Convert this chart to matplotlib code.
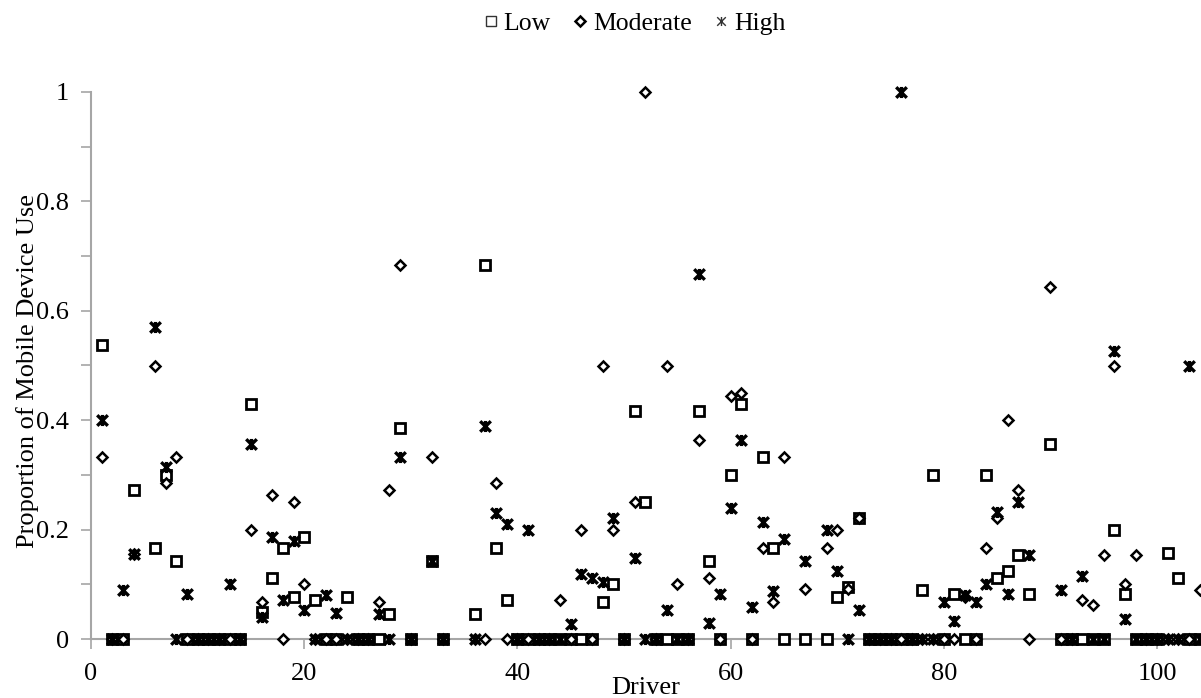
import numpy as np
import matplotlib
matplotlib.use("Agg")
import matplotlib.pyplot as plt
from matplotlib.path import Path
from matplotlib.lines import Line2D

nan = np.nan
drivers = list(range(1, 105))
low = [0.538, 0, 0, 0.273, nan, 0.167, 0.300, 0.143, 0, 0,
       0, 0, 0, 0, 0.429, 0.050, 0.111, 0.167, 0.077, 0.186,
       0.071, 0, 0, 0.077, 0, 0, 0, 0.045, 0.385, 0,
       nan, 0.143, 0, nan, nan, 0.045, 0.684, 0.167, 0.071, 0,
       0, 0, 0, 0, 0, 0, 0, 0.067, 0.100, 0,
       0.417, 0.250, 0, 0, 0, 0, 0.417, 0.143, 0, 0.300,
       0.429, 0, 0.333, 0.167, 0, nan, 0, nan, 0, 0.077,
       0.095, 0.222, 0, 0, 0, 0, 0, 0.090, 0.300, 0,
       0.083, 0, 0, 0.300, 0.111, 0.125, 0.154, 0.083, nan, 0.357,
       0, 0, 0, 0, 0, 0.200, 0.083, 0, 0, 0,
       0.158, 0.111, 0, 0]
moderate = [0.333, 0, 0, 0.155, nan, 0.500, 0.286, 0.333, 0, 0,
            0, 0, 0, 0, 0.200, 0.067, 0.263, 0, 0.250, 0.100,
            0, 0, 0, 0, 0, 0, 0.067, 0.273, 0.684, 0,
            nan, 0.333, 0, nan, nan, 0, 0, 0.286, 0, 0,
            0, 0, 0, 0.071, 0, 0.200, 0, 0.500, 0.200, 0,
            0.250, 1.0, 0, 0.500, 0.100, 0, 0.364, 0.111, 0, 0.444,
            0.450, 0, 0.167, 0.067, 0.333, nan, 0.091, nan, 0.167, 0.200,
            0.091, 0.222, 0, 0, 0, 0, 0, 0, 0, 0,
            0, 0.077, 0, 0.167, 0.222, 0.400, 0.273, 0, nan, 0.643,
            0, 0, 0.071, 0.063, 0.154, 0.500, 0.100, 0.154, 0, 0,
            0, 0, 0, 0.090]
high = [0.400, 0, 0.090, 0.155, nan, 0.571, 0.314, 0, 0.083, 0,
        0, 0, 0.100, 0, 0.357, 0.040, 0.186, 0.072, 0.180, 0.053,
        0, 0.080, 0.048, 0, 0, 0, 0.045, 0, 0.333, 0,
        nan, 0.143, 0, nan, nan, 0, 0.390, 0.231, 0.210, 0,
        0.200, 0, 0, 0, 0.028, 0.118, 0.111, 0.105, 0.222, 0,
        0.148, 0, 0, 0.053, 0, 0, 0.667, 0.029, 0.083, 0.240,
        0.364, 0.059, 0.214, 0.087, 0.182, nan, 0.143, nan, 0.200, 0.125,
        0, 0.053, 0, 0, 0, 1.0, 0, 0, 0, 0.067,
        0.033, 0.080, 0.067, 0.100, 0.233, 0.083, 0.250, 0.154, nan, nan,
        0.090, 0, 0.116, 0, 0, 0.526, 0.036, 0, 0, 0,
        0, 0, 0.500, 0]

x_ticks = [0, 20, 40, 60, 80, 100]
y_ticks = [0, 0.2, 0.4, 0.6, 0.8, 1.0]
y_tick_labels = ["0", "0.2", "0.4", "0.6", "0.8", "1"]
series_names = ["Low", "Moderate", "High"]

plt.rcParams['font.family'] = ['Liberation Serif', 'DejaVu Serif']

W, H = 1201, 698
fig = plt.figure(figsize=(W / 100, H / 100), dpi=100)
x0_px, px_per = 91, 10.66
y0_px, y1_px = 639, 92
xmax = 104.6
ax_w = xmax * px_per / W
ax = fig.add_axes([x0_px / W, (H - y0_px) / H, ax_w, (y0_px - y1_px) / H])

star_path = Path([(-1, -1), (1, 1), (-1, 1), (1, -1), (0, -1.05), (0, 1.05)],
                 [Path.MOVETO, Path.LINETO, Path.MOVETO, Path.LINETO, Path.MOVETO, Path.LINETO])

ax.plot(drivers, low, linestyle='none', marker='s', markersize=6.9, markerfacecolor='white',
        markeredgecolor='black', markeredgewidth=2.0, clip_on=False, zorder=3)
ax.plot(drivers, moderate, linestyle='none', marker='D', markersize=5.0, markerfacecolor='white',
        markeredgecolor='black', markeredgewidth=1.8, clip_on=False, zorder=4)
ax.plot(drivers, high, linestyle='none', marker=star_path, markersize=8.0, markerfacecolor='none',
        markeredgecolor='black', markeredgewidth=2.4, clip_on=False, zorder=5)

ax.set_xlim(0, xmax)
ax.set_ylim(0, 1.0)
ax.set_xticks(x_ticks)
ax.set_xticklabels([str(t) for t in x_ticks])
ax.set_yticks(y_ticks)
ax.set_yticklabels(y_tick_labels)
ax.set_yticks(np.arange(0.1, 1.0, 0.2), minor=True)
ax.tick_params(axis='both', which='both', direction='out', length=7, width=1.2,
               color='#a6a6a6', labelsize=19, labelcolor='black')
ax.tick_params(axis='y', pad=9)
ax.tick_params(axis='x', pad=10)
for s in ['top', 'right']:
    ax.spines[s].set_visible(False)
for s in ['left', 'bottom']:
    ax.spines[s].set_color('#a6a6a6')
    ax.spines[s].set_linewidth(1.5)

fig.text(646 / W, 1 - 694 / H, "Driver", fontsize=19, ha='center', va='baseline')
ax.set_ylabel("Proportion of Mobile Device Use", fontsize=19)
ax.yaxis.set_label_coords((39 - x0_px) / (xmax * px_per), 0.49)

handles = [
    Line2D([], [], linestyle='none', marker='s', markersize=7, markerfacecolor='white',
           markeredgecolor='#333333', markeredgewidth=1.0),
    Line2D([], [], linestyle='none', marker='D', markersize=5.2, markerfacecolor='white',
           markeredgecolor='black', markeredgewidth=1.8),
    Line2D([], [], linestyle='none', marker=star_path, markersize=6.5, markerfacecolor='none',
           markeredgecolor='#333333', markeredgewidth=1.0),
]
fig.legend(handles, series_names, loc='center', ncol=3,
           bbox_to_anchor=(635 / W, 1 - 24 / H), frameon=False, fontsize=18.5,
           handlelength=0.5, handletextpad=0.25, columnspacing=0.9)

fig.savefig("out.png", dpi=100)
